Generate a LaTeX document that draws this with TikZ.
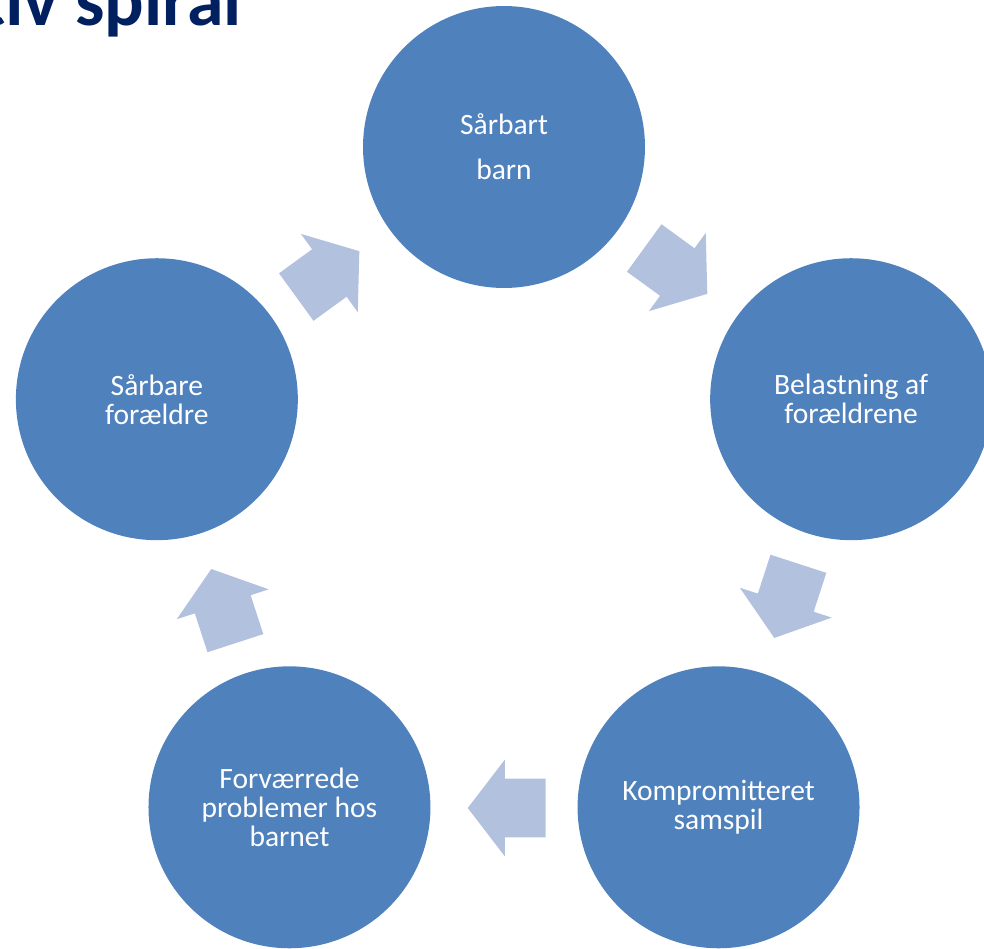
\documentclass[tikz,border=0pt]{standalone}
\usepackage{fontspec}
\setmainfont{Carlito}
\usetikzlibrary{shapes.arrows, positioning, calc}
\definecolor{spiralBlue}{RGB}{79, 129, 189}
\definecolor{spiralArrow}{RGB}{178, 194, 222}
\definecolor{spiralNavy}{RGB}{0, 32, 96}

\begin{document}
\begin{tikzpicture}[
                x=0.02cm, y=0.02cm,
                stage/.style={circle, fill=spiralBlue, minimum size=5.64cm, inner sep=0pt, align=center, text=white, font=\fontsize{16.8}{16.5}\selectfont},
                flow/.style={single arrow, fill=spiralArrow, inner xsep=0pt, inner ysep=0.58cm, minimum height=1.56cm, single arrow head extend=0.38cm, single arrow tip angle=105}
            ]
                \useasboundingbox (0,0) rectangle (984,948);
                \coordinate (hub) at (504,436);

                % title, cut at the page edge
                \node[anchor=base east, inner sep=0pt, text=spiralNavy, font=\fontsize{42}{46}\selectfont\bfseries] (title) at (242,922) {tiv spiral};

                \node[stage] (s1) at ($(hub)+(90:365)$) {Sårbart\\[0.32cm]barn};
                \node[stage] (s2) at ($(hub)+(18:365)$) {Belastning af\\forældrene};
                \node[stage] (s3) at ($(hub)+(-54:365)$) {Kompromitteret\\samspil};
                \node[stage] (s4) at ($(hub)+(-126:365)$) {Forværrede\\problemer hos\\barnet};
                \node[stage] (s5) at ($(hub)+(162:365)$) {Sårbare\\forældre};

                \node[flow, rotate=-36] (f1) at ($(hub)+(54:296)+(144:14)$) {};
                \node[flow, rotate=-108] (f2) at ($(hub)+(-18:296)+(72:14)$) {};
                \node[flow, rotate=180] (f3) at ($(hub)+(-90:296)+(0:14)$) {};
                \node[flow, rotate=108] (f4) at ($(hub)+(198:296)+(-72:14)$) {};
                \node[flow, rotate=36] (f5) at ($(hub)+(126:296)+(-144:14)$) {};
            \end{tikzpicture}
\end{document}
